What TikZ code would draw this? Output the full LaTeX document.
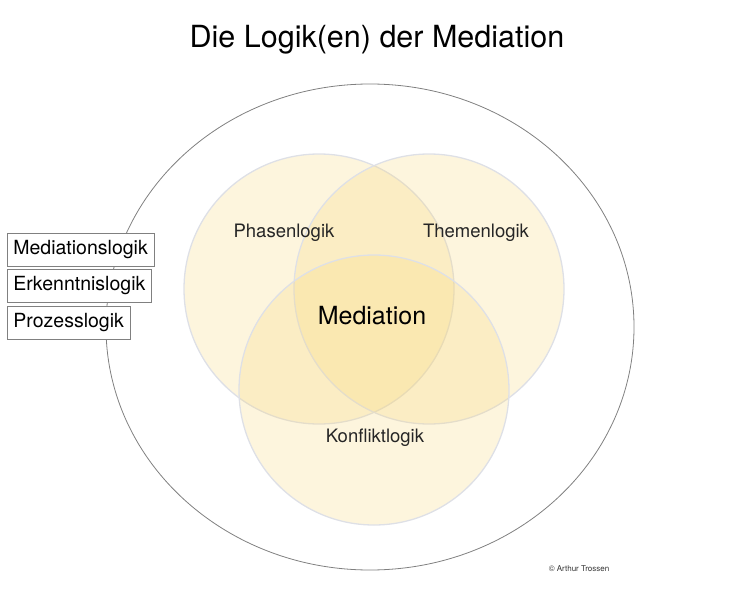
\documentclass[tikz,border=0pt]{standalone}
\usepackage{fontspec}
\setmainfont{TeX Gyre Heros}
\usetikzlibrary{positioning}
\definecolor{venngelb}{RGB}{247,215,120}
\definecolor{vennrand}{RGB}{222,224,230}
\definecolor{rahmengrau}{RGB}{128,128,128}

\begin{document}
\begin{tikzpicture}[
      x=1pt,y=-1pt,
      venn/.style={circle,minimum size=270pt,inner sep=0pt,draw=vennrand,line width=1.3pt,
                   fill=venngelb,fill opacity=0.25},
      lbl/.style={font=\fontsize{18.5}{22}\selectfont,text=black!85},
      logicbox/.style={draw=rahmengrau,fill=white,line width=0.8pt,minimum height=33pt,
                       inner xsep=6.5pt,anchor=west,font=\fontsize{19.5}{23}\selectfont}
    ]
    \useasboundingbox (0,0) rectangle (737,602);

    \node (titel) at (377,40) {\fontsize{30.5}{36}\selectfont Die Logik(en) der Mediation};

    % aeussere Ellipse
    \draw[rahmengrau,line width=0.8pt] (370,327) ellipse [x radius=264, y radius=243];

    % die drei Kreise
    \node[venn] (phasen)  at (319,289) {};
    \node[venn] (themen)  at (429,289) {};
    \node[venn] (konflikt) at (374,390) {};

    \node[lbl] (phasenlbl)   at (284,233) {Phasenlogik};
    \node[lbl] (themenlbl)   at (476,233) {Themenlogik};
    \node[lbl] (konfliktlbl) at (375,438) {Konfliktlogik};
    \node (mitte) at (372,316) {\fontsize{25}{30}\selectfont Mediation};

    % Kaesten links
    \node[logicbox] (mlogik) at (6.5,250) {Mediationslogik};
    \node[logicbox] (elogik) at (6.5,286) {Erkenntnislogik};
    \node[logicbox] (plogik) at (6.5,323) {Prozesslogik};

    \node[font=\fontsize{8}{10}\selectfont,text=black!80] (copy) at (579,569) {© Arthur Trossen};

  \end{tikzpicture}
\end{document}
